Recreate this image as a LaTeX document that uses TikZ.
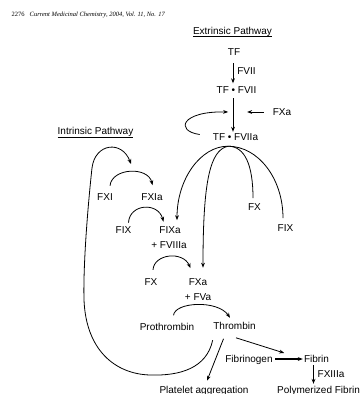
\documentclass[tikz,border=0pt]{standalone}
\usepackage{fontspec}
\setmainfont{Liberation Sans}
\newfontfamily\hdrfont{Liberation Serif}
\usetikzlibrary{arrows.meta,calc}
\begin{document}
\begin{tikzpicture}[x=1pt,y=-1pt,
  lbl/.style={font=\fontsize{10}{12}\selectfont, inner sep=1pt, text height=7.2pt, text depth=0pt},
  arr/.style={line width=0.8pt, -{Stealth[length=5pt,width=3.8pt]}},
  ln/.style={line width=0.8pt},
  ul/.style={line width=0.6pt}]
\useasboundingbox (0,0) rectangle (360,394);

% header
\node[anchor=west, font=\hdrfont\fontsize{6.5}{8}\selectfont, inner sep=0] (hdr) at (11.5,15)
  {2276\hspace{5pt}\itshape Current Medicinal Chemistry, 2004, Vol. 11, No. 17};

% headings
\node[lbl] (ext) at (232.5,30.5) {Extrinsic Pathway};
\draw[ul] ($(ext.south west)+(1,1)$) -- ($(ext.south east)+(-1,1)$);
\node[lbl] (int) at (95.5,131) {Intrinsic Pathway};
\draw[ul] ($(int.south west)+(1,1)$) -- ($(int.south east)+(-1,1)$);

% extrinsic nodes
\node[lbl] (TF) at (234,52) {TF};
\node[lbl] (FVII) at (246.5,71) {FVII};
\node[lbl] (TFFVII) at (236.5,90) {TF • FVII};
\node[lbl] (FXaE) at (282,112) {FXa};
\node[lbl] (TFFVIIa) at (235.5,137) {TF • FVIIa};
\node[lbl] (FXr) at (254.5,207) {FX};
\node[lbl] (FIXr) at (285.5,228) {FIX};

% intrinsic nodes
\node[lbl] (FXI) at (105,197) {FXI};
\node[lbl] (FXIa) at (152,197) {FXIa};
\node[lbl] (FIX) at (123.5,230) {FIX};
\node[lbl] (FIXa) at (170,230) {FIXa};
\node[lbl] (FVIIIa) at (169,245) {+ FVIIIa};
\node[lbl] (FX) at (151,282) {FX};
\node[lbl] (FXa) at (198,282) {FXa};
\node[lbl] (FVa) at (198,297) {+ FVa};
\node[lbl] (Pro) at (167,326.5) {Prothrombin};
\node[lbl] (Thr) at (234.5,326) {Thrombin};
\node[lbl] (Fbg) at (249,359) {Fibrinogen};
\node[lbl] (Fib) at (316.5,359) {Fibrin};
\node[lbl] (FXIIIa) at (331,374) {FXIIIa};
\node[lbl] (Plt) at (204,389.5) {Platelet aggregation};
\node[lbl] (Pol) at (318.5,389.5) {Polymerized Fibrin};

% extrinsic arrows
\draw[arr] ($(TF.south)+(-1,6.4)$) -- ($(TFFVII.north)+(-3.5,-1.9)$);
\draw[arr] ($(TFFVII.south)+(-3.5,3.4)$) -- ($(TFFVIIa.north)+(-2.5,-0.4)$);
\coordinate (fxtip) at ($(FXaE.west)+(-24.5,0)$);
\draw[arr] ($(FXaE.west)+(-8,0)$) -- (fxtip);
\coordinate (cstart) at ($(TFFVIIa.west)+(-12,-2.5)$);
\coordinate (ctip) at ($(fxtip)+(-19,0)$);
\draw[arr] (cstart) .. controls +(-25,-3.5) and +(-47,-1) .. (ctip);

% hub below TF.FVIIa
\coordinate (hub) at ($(TFFVIIa.south)+(-7.5,4.4)$);
\draw[arr] (hub) .. controls +(-27.5,0) and +(0,-41) .. ($(FIXa.north)+(7,-5)$);
\draw[arr] (hub) .. controls +(-18,4) and +(0,-87) .. ($(FXa.north)+(5,-9.5)$);
\draw[ln] (hub) .. controls +(17,0) and +(0,-33) .. ($(FXr.north)+(-1.5,-4)$);
\draw[ln] (hub) .. controls +(30,0) and +(0,-40) .. ($(FIXr.north)+(-2.5,-5)$);

% intrinsic activation arcs
\draw[arr] ($(FXI.north)+(5,-6.5)$) .. controls +(2,-18) and +(-4.5,-19) .. ($(FXIa.north)+(0.5,-7)$);
\draw[arr] ($(FIX.north)+(5,-2.5)$) .. controls +(1,-19) and +(-5.5,-20) .. ($(FIXa.north)+(-6.5,-3.5)$);
\draw[arr] ($(FX.north)+(2,-7.4)$) .. controls +(1,-16) and +(-7.5,-17.5) .. ($(FXa.north)+(-7.5,-9)$);
\draw[arr] ($(Pro.north)+(6.5,-6.4)$) .. controls +(1.5,-13.5) and +(-12,-18) .. ($(Thr.north)+(-4.5,-3.4)$);

% thrombin feedback loop
\coordinate (fb) at (131,164);
\draw[arr] ($(Thr.south west)+(0.5,9.4)$)
   .. controls +(-6,28) and +(30,1) .. (150,375)
   .. controls +(-35,-1) and +(2,50) .. (84,300)
   .. controls +(-1,-40) and +(-3,27) .. (92,168)
   .. controls +(3,-25) and +(-9,-24) .. (fb);

% thrombin products
\coordinate (fmid) at ($(Fbg.east)!0.36!(Fib.west)+(0,-6)$);
\draw[arr] ($(Thr.south)+(1.5,7)$) -- (fmid);
\draw[arr] ($(Thr.south)+(-11,8)$) -- ($(Plt.north)+(3,-4)$);
\draw[arr, line width=1.1pt] ($(Fbg.east)+(1.5,0)$) -- (Fib.west);
\draw[arr] ($(Fib.south)+(-3,1.5)$) -- ($(Fib.south)+(-3,20)$);
\end{tikzpicture}
\end{document}
